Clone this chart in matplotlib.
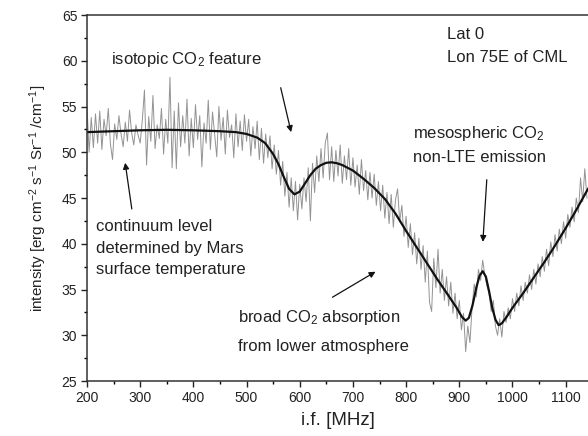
import numpy as np
import matplotlib
matplotlib.use("Agg")
import matplotlib.pyplot as plt
from matplotlib.ticker import MultipleLocator

plt.rcParams['font.family'] = ['Liberation Sans', 'DejaVu Sans']
plt.rcParams['mathtext.fontset'] = 'custom'
plt.rcParams['mathtext.rm'] = 'Liberation Sans'
plt.rcParams['mathtext.it'] = 'Liberation Sans'

# measured spectrum, i.f. in MHz (4 MHz steps from 200 to 1140)
freq = np.arange(200, 1141, 4)
intensity = [
    55.0, 50.0, 53.8, 50.5, 54.2, 51.0, 54.5, 50.3, 53.6, 51.8, 54.8, 50.9, 49.2, 53.1, 51.4, 54.0, 52.0, 50.6, 53.3, 51.2, 54.6, 52.1, 50.8, 53.0, 51.9,
    51.0, 53.5, 56.8, 48.6, 53.9, 51.2, 56.2, 50.4, 53.0, 51.5, 54.8, 49.8, 53.6, 51.0, 58.2, 48.3, 54.5, 48.2, 55.4, 50.6, 54.0, 51.0, 55.8, 49.6, 53.7,
    50.5, 55.2, 51.4, 54.0, 48.4, 53.2, 51.0, 55.7, 50.3, 54.4, 52.0, 49.5, 55.0, 51.3, 53.8, 49.8, 54.6, 51.6, 53.0, 49.4, 54.2, 50.6, 53.4, 50.2, 54.1,
    51.2, 53.6, 49.6, 52.8, 50.4, 53.4, 49.2, 52.6, 48.8, 52.0, 49.4, 51.8, 48.2, 50.8, 47.6, 50.2, 46.4, 49.0, 45.2, 47.8, 44.0, 47.2, 43.6, 46.8, 42.6,
    46.5, 43.8, 47.2, 44.6, 48.3, 42.5, 48.8, 45.6, 49.6, 46.8, 50.4, 47.2, 51.0, 52.1, 47.0, 50.6, 46.8, 50.2, 47.4, 50.8, 46.6, 49.6, 47.0, 50.4, 46.4,
    49.4, 46.2, 48.6, 45.4, 49.2, 45.8, 48.0, 44.8, 47.8, 45.0, 47.6, 44.2, 46.8, 43.6, 46.4, 42.8, 45.6, 42.2, 45.4, 41.8, 44.8, 46.0, 42.4, 44.2, 40.8,
    43.0, 39.6, 42.2, 38.8, 41.2, 37.8, 40.6, 37.2, 39.8, 35.8, 39.2, 33.6, 32.6, 38.4, 35.2, 39.4, 34.6, 37.2, 33.8, 36.4, 33.2, 35.8, 32.4, 34.6, 31.8,
    33.8, 30.6, 32.4, 28.2, 31.0, 29.2, 33.0, 35.6, 34.2, 37.2, 36.0, 38.2, 36.6, 35.4, 34.6, 32.6, 33.8, 31.0, 30.0, 31.8, 29.8, 32.6, 31.4, 33.0, 31.8,
    34.0, 32.6, 34.6, 33.2, 35.4, 33.8, 35.8, 34.6, 36.6, 35.0, 37.2, 35.6, 37.8, 36.4, 38.6, 37.0, 39.4, 37.6, 40.2, 38.6, 41.0, 39.2, 41.6, 40.0, 42.4,
    40.6, 43.2, 41.8, 44.0, 42.4, 45.0, 43.4, 47.2, 44.6, 48.2, 45.0,
]

# model fit
fit_freq = [200, 250, 300, 350, 400, 450, 480, 500, 520, 535, 550, 560, 570, 580, 590, 600, 610, 620, 630, 640,
            650, 660, 670, 680, 700, 720, 740, 760, 780, 800, 820, 840, 860, 880, 895, 905, 912, 918, 925, 932,
            938, 944, 950, 956, 962, 968, 974, 980, 990, 1000, 1020, 1040, 1060, 1080, 1100, 1120, 1142]
fit_int = [52.2, 52.3, 52.4, 52.45, 52.4, 52.3, 52.2, 52.0, 51.6, 51.0, 49.8, 48.7, 47.3, 46.0, 45.4, 45.7, 46.6, 47.5, 48.2, 48.6,
           48.85, 48.9, 48.8, 48.6, 48.0, 47.1, 46.1, 44.9, 43.3, 41.4, 39.6, 37.8, 36.0, 34.3, 33.0, 32.0, 31.6, 31.9, 33.3, 35.2,
           36.5, 37.0, 36.4, 34.8, 33.0, 31.7, 31.1, 31.3, 32.1, 33.0, 34.6, 36.3, 38.0, 39.8, 41.7, 43.7, 46.0]

fig = plt.figure(figsize=(5.88, 4.36), dpi=100)
ax = fig.add_axes([87/588, 55/436, 1 - 87/588, (381-15)/436])

ax.plot(freq, intensity, color='#939393', lw=0.7)
ax.plot(fit_freq, fit_int, color='#111111', lw=1.6)

ax.set_xlim(200, 1142)
ax.set_ylim(25, 65)
ax.xaxis.set_major_locator(MultipleLocator(100))
ax.xaxis.set_minor_locator(MultipleLocator(50))
ax.yaxis.set_major_locator(MultipleLocator(5))
ax.yaxis.set_minor_locator(MultipleLocator(2.5))
ax.tick_params(which='major', direction='out', length=4, width=1, labelsize=10, colors='#222222', pad=3)
ax.tick_params(which='minor', direction='out', length=2.5, width=1)
ax.spines['right'].set_visible(False)
for s in ['left', 'top', 'bottom']:
    ax.spines[s].set_linewidth(1.1)
    ax.spines[s].set_color('#333333')

ax.set_xlabel('i.f. [MHz]', fontsize=13.5, color='#222222', labelpad=5)
ax.set_ylabel(r'intensity [erg cm$^{-2}$ s$^{-1}$ Sr$^{-1}$ /cm$^{-1}$]', fontsize=11, color='#222222', labelpad=9)

tk = dict(fontsize=12, color='#222222')
ax.text(386, 60.1, r'isotopic CO$_2$ feature', ha='center', va='center', **tk)
ax.text(877, 62.9, 'Lat 0', ha='left', va='center', **tk)
ax.text(877, 60.4, 'Lon 75E of CML', ha='left', va='center', **tk)
ax.text(813, 52.1, r'mesospheric CO$_2$', ha='left', va='center', **tk)
ax.text(813, 49.4, 'non-LTE emission', ha='left', va='center', **tk)
ax.text(217, 41.9, 'continuum level', ha='left', va='center', **tk)
ax.text(217, 39.5, 'determined by Mars', ha='left', va='center', **tk)
ax.text(217, 37.2, 'surface temperature', ha='left', va='center', **tk)
ax.text(484, 31.9, r'broad CO$_2$ absorption', ha='left', va='center', **tk)
ax.text(484, 28.8, 'from lower atmosphere', ha='left', va='center', **tk)

ap = dict(arrowstyle='-|>', color='#111111', lw=0.9, mutation_scale=9)
ax.annotate('', xy=(585, 51.9), xytext=(563, 57.35), arrowprops=ap)
ax.annotate('', xy=(944, 39.9), xytext=(952, 47.3), arrowprops=ap)
ax.annotate('', xy=(271, 49.15), xytext=(285, 43.5), arrowprops=ap)
ax.annotate('', xy=(747, 37.1), xytext=(657, 34.0), arrowprops=ap)

fig.savefig('out.png', dpi=100)
